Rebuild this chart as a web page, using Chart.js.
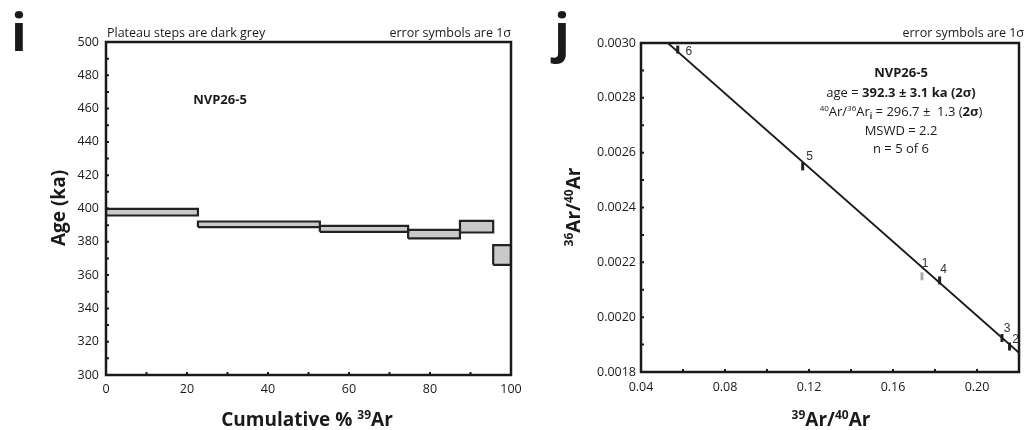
<!DOCTYPE html>
<html>
<head>
<meta charset="utf-8">
<script src="https://cdn.jsdelivr.net/npm/chart.js@4.4.1/dist/chart.umd.min.js"></script>
<style>
  html, body { margin: 0; padding: 0; background: #fff; }
  #wrap { position: relative; width: 1027px; height: 430px; overflow: hidden; }
  .box { position: absolute; top: 0; height: 430px; }
</style>
</head>
<body>
<div id="wrap">
  <div class="box" style="left:0;width:560px"><canvas id="spectrum"></canvas></div>
  <div class="box" style="left:520px;width:507px"><canvas id="isochron"></canvas></div>
</div>
<script>
// age spectrum steps (cumulative % 39Ar, age in ka, 1 sigma box)
const stepStart = [0, 22.7, 52.8, 74.6, 87.4, 95.6];
const stepEnd = [22.7, 52.8, 74.6, 87.4, 95.6, 100];
const ageHigh = [399.8, 392.2, 389.6, 387.2, 392.6, 378.0];
const ageLow = [395.8, 388.8, 386.0, 382.0, 385.6, 366.2];

// inverse isochron
const stepNo = ["1", "2", "3", "4", "5", "6"];
const ratio39 = [0.1738, 0.2155, 0.2119, 0.1822, 0.1170, 0.0575];
const ratio36 = [0.002149, 0.001893, 0.001924, 0.002134, 0.00255, 0.002976];
const inPlateau = [false, true, true, true, true, true];
const fitX = [0.0528, 0.22];
const fitY = [0.0030, 0.00187];

const FONT = '"Open Sans", "Noto Sans", sans-serif';
const INK = "#1a1a1a";

function richText(ctx, parts, x, y, align, size) {
  let width = 0;
  const segs = parts.map(([text, style = ""]) => {
    const bold = style.includes("b");
    const small = style.includes("sup") || style.includes("sub");
    const font = `${bold ? "bold " : ""}${small ? Math.round(size * 0.65) : size}px ${FONT}`;
    ctx.font = font;
    const w = ctx.measureText(text).width;
    width += w;
    return { text, font, w, dy: style.includes("sup") ? -size * 0.38 : style.includes("sub") ? size * 0.22 : 0 };
  });
  let cx = align === "center" ? x - width / 2 : align === "right" ? x - width : x;
  ctx.textAlign = "left";
  ctx.textBaseline = "alphabetic";
  segs.forEach((s) => {
    ctx.font = s.font;
    ctx.fillText(s.text, cx, y + s.dy);
    cx += s.w;
  });
}

function rotatedText(ctx, parts, x, y, size) {
  ctx.save();
  ctx.translate(x, y);
  ctx.rotate(-Math.PI / 2);
  richText(ctx, parts, 0, 0, "center", size);
  ctx.restore();
}

const frame = {
  id: "frame",
  afterDraw(chart) {
    const { ctx, chartArea: a, scales } = chart;
    ctx.save();
    ctx.strokeStyle = INK;
    ctx.lineWidth = 2;
    ctx.beginPath();
    scales.x.ticks.forEach((t) => {
      const px = scales.x.getPixelForValue(t.value);
      ctx.moveTo(px, a.bottom);
      ctx.lineTo(px, a.bottom - 3);
    });
    scales.y.ticks.forEach((t) => {
      const py = scales.y.getPixelForValue(t.value);
      ctx.moveTo(a.left, py);
      ctx.lineTo(a.left + 3, py);
    });
    ctx.stroke();
    ctx.lineWidth = 2.5;
    ctx.strokeRect(a.left, a.top, a.right - a.left, a.bottom - a.top);
    ctx.restore();
  }
};

function tickFont() {
  return { family: FONT, size: 12.5 };
}

// ---------- panel i : age spectrum ----------
const spectrumText = {
  id: "spectrumText",
  afterDraw(chart) {
    const ctx = chart.ctx;
    ctx.save();
    ctx.fillStyle = INK;
    richText(ctx, [["i", "b"]], 11, 51, "left", 52);
    richText(ctx, [["Plateau steps are dark grey"]], 107, 37, "left", 12.5);
    richText(ctx, [["error symbols are 1σ"]], 511, 37, "right", 12.5);
    richText(ctx, [["NVP26-5", "b"]], 220, 104, "center", 13);
    rotatedText(ctx, [["Age (ka)", "b"]], 65, 208, 19);
    richText(ctx, [["Cumulative % ", "b"], ["39", "bsup"], ["Ar", "b"]], 307, 426, "center", 19);
    ctx.restore();
  }
};

new Chart(document.getElementById("spectrum"), {
  type: "scatter",
  data: {
    datasets: stepStart.map((x0, i) => ({
      data: [
        { x: x0, y: ageLow[i] },
        { x: x0, y: ageHigh[i] },
        { x: stepEnd[i], y: ageHigh[i] },
        { x: stepEnd[i], y: ageLow[i] },
        { x: x0, y: ageLow[i] }
      ],
      showLine: true,
      fill: "shape",
      backgroundColor: "#c9c9c9",
      borderColor: "#222",
      borderWidth: 2.2,
      pointRadius: 0,
      tension: 0
    }))
  },
  options: {
    responsive: true,
    maintainAspectRatio: false,
    animation: false,
    layout: { padding: { top: 42, right: 49, left: 0, bottom: 0 } },
    plugins: { legend: { display: false }, tooltip: { enabled: false } },
    scales: {
      x: {
        type: "linear",
        min: 0,
        max: 100,
        grid: { display: false, drawTicks: false },
        border: { display: false },
        ticks: {
          stepSize: 10,
          autoSkip: false,
          maxRotation: 0,
          padding: 7,
          color: INK,
          font: tickFont(),
          callback: (v) => (Math.round(v) % 20 === 0 ? String(Math.round(v)) : "")
        },
        afterFit: (s) => { s.height = 55; }
      },
      y: {
        min: 300,
        max: 500,
        grid: { display: false, drawTicks: false },
        border: { display: false },
        ticks: {
          stepSize: 10,
          autoSkip: false,
          padding: 7,
          color: INK,
          font: tickFont(),
          callback: (v) => (Math.round(v) % 20 === 0 ? String(Math.round(v)) : "")
        },
        afterFit: (s) => { s.width = 106; }
      }
    }
  },
  plugins: [frame, spectrumText]
});

// ---------- panel j : inverse isochron ----------
const labelOffset = [[3, -13], [6, -7], [5, -9], [4, -11], [7, -10], [11, 2]];

const isochronText = {
  id: "isochronText",
  afterDraw(chart) {
    const ctx = chart.ctx;
    ctx.save();
    ctx.fillStyle = INK;
    richText(ctx, [["j", "b"]], 34, 51, "left", 52);
    richText(ctx, [["error symbols are 1σ"]], 504, 37, "right", 12.5);
    const cx = 381;
    richText(ctx, [["NVP26-5", "b"]], cx, 77, "center", 13);
    richText(ctx, [["age = "], ["392.3 ± 3.1 ka (2σ)", "b"]], cx, 97, "center", 13);
    richText(ctx, [["40", "sup"], ["Ar/"], ["36", "sup"], ["Ar"], ["i", "sub"], [" = 296.7 ±  1.3 ("], ["2σ", "b"], [")"]], cx, 116, "center", 13);
    richText(ctx, [["MSWD = 2.2"]], cx, 135, "center", 13);
    richText(ctx, [["n = 5 of 6"]], cx, 153, "center", 13);
    rotatedText(ctx, [["36", "bsup"], ["Ar/", "b"], ["40", "bsup"], ["Ar", "b"]], 60, 207, 19);
    richText(ctx, [["39", "bsup"], ["Ar/", "b"], ["40", "bsup"], ["Ar", "b"]], 311, 426, "center", 19);

    const meta = chart.getDatasetMeta(1);
    ctx.font = `12px "Liberation Sans", Arial, sans-serif`;
    ctx.textAlign = "center";
    ctx.textBaseline = "middle";
    meta.data.forEach((pt, i) => {
      ctx.fillStyle = "#333";
      ctx.fillText(stepNo[i], pt.x + labelOffset[i][0], pt.y + labelOffset[i][1]);
    });
    ctx.restore();
  }
};

new Chart(document.getElementById("isochron"), {
  type: "scatter",
  data: {
    datasets: [
      {
        data: fitX.map((x, i) => ({ x, y: fitY[i] })),
        showLine: true,
        borderColor: INK,
        borderWidth: 1.8,
        pointRadius: 0
      },
      {
        data: ratio39.map((x, i) => ({ x, y: ratio36[i] })),
        pointStyle: "line",
        rotation: 90,
        pointRadius: 4,
        pointBorderWidth: 3,
        pointBorderColor: inPlateau.map((p) => (p ? "#222" : "#aaa")),
        pointBackgroundColor: inPlateau.map((p) => (p ? "#222" : "#aaa"))
      }
    ]
  },
  options: {
    responsive: true,
    maintainAspectRatio: false,
    animation: false,
    layout: { padding: { top: 43, right: 2, left: 0, bottom: 0 } },
    plugins: { legend: { display: false }, tooltip: { enabled: false } },
    scales: {
      x: {
        type: "linear",
        min: 0.04,
        max: 0.22,
        grid: { display: false, drawTicks: false },
        border: { display: false },
        ticks: {
          stepSize: 0.02,
          autoSkip: false,
          maxRotation: 0,
          padding: 8,
          color: INK,
          font: tickFont(),
          callback: (v) => (Math.round(v * 100) % 4 === 0 ? v.toFixed(2) : "")
        },
        afterFit: (s) => { s.height = 58; }
      },
      y: {
        min: 0.0018,
        max: 0.0030,
        grid: { display: false, drawTicks: false },
        border: { display: false },
        ticks: {
          stepSize: 0.0001,
          autoSkip: false,
          padding: 5,
          color: INK,
          font: tickFont(),
          callback: (v) => (Math.round(v * 10000) % 2 === 0 ? v.toFixed(4) : "")
        },
        afterFit: (s) => { s.width = 121; }
      }
    }
  },
  plugins: [frame, isochronText]
});
</script>
</body>
</html>
